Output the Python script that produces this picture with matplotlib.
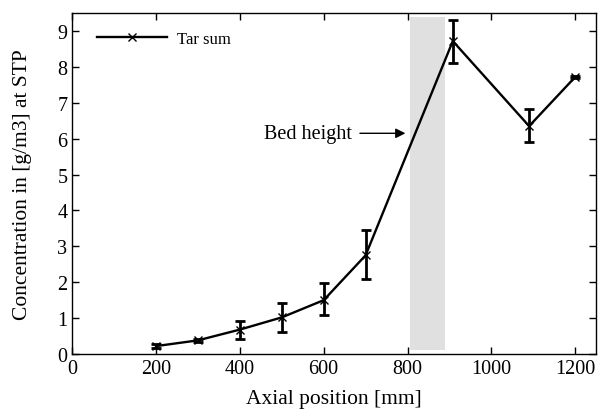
import numpy as np
import matplotlib.pyplot as plt
from matplotlib.lines import Line2D

plt.rcParams['font.family'] = ['Liberation Serif', 'DejaVu Serif']

# data
position = [200, 300, 400, 500, 600, 700, 908, 1090, 1200]
tar_sum = [0.22, 0.38, 0.68, 1.02, 1.50, 2.75, 8.72, 6.35, 7.72]
err_low = [0.05, 0.04, 0.25, 0.40, 0.40, 0.67, 0.62, 0.45, 0.04]
err_high = [0.05, 0.04, 0.25, 0.40, 0.48, 0.70, 0.60, 0.47, 0.04]

bed_start, bed_end = 805, 890
bed_bottom, bed_top = 0.1, 9.4

fig = plt.figure(figsize=(6.01, 4.14), dpi=100)
ax = fig.add_axes([0.120, 0.1425, 0.872, 0.8235])

ax.fill_between([bed_start, bed_end], bed_bottom, bed_top,
                color="#e0e0e0", linewidth=0, zorder=1)

ax.errorbar(position, tar_sum, yerr=[err_low, err_high],
            color="black", marker="x", markersize=6, linewidth=1.7,
            elinewidth=2.0, capsize=3.5, capthick=2.0, zorder=3)

ax.annotate("Bed height", xy=(795, 6.15), xytext=(457, 6.15),
            fontsize=14.5, va="center", ha="left",
            arrowprops=dict(arrowstyle="-|>", color="black", lw=1.0,
                            shrinkA=4, shrinkB=0))

ax.set_xlim(0, 1250)
ax.set_ylim(0, 9.5)
ax.set_xticks([0, 200, 400, 600, 800, 1000, 1200])
ax.set_yticks(range(10))
ax.tick_params(direction="in", top=True, right=True, labelsize=14.5,
               length=5, width=1)
for s in ax.spines.values():
    s.set_linewidth(1.0)

ax.set_xlabel("Axial position [mm]", fontsize=15.5, labelpad=8)
ax.set_ylabel("Concentration in [g/m3] at STP", fontsize=15.5, labelpad=18)

handle = Line2D([], [], color="black", marker="x", markersize=6, linewidth=1.7)
ax.legend([handle], ["Tar sum"], loc="upper left", frameon=False, fontsize=12,
          handlelength=4.2, handletextpad=0.6,
          bbox_to_anchor=(0.035, 0.967), borderaxespad=0, borderpad=0.4)

fig.savefig("out.png", dpi=100)
